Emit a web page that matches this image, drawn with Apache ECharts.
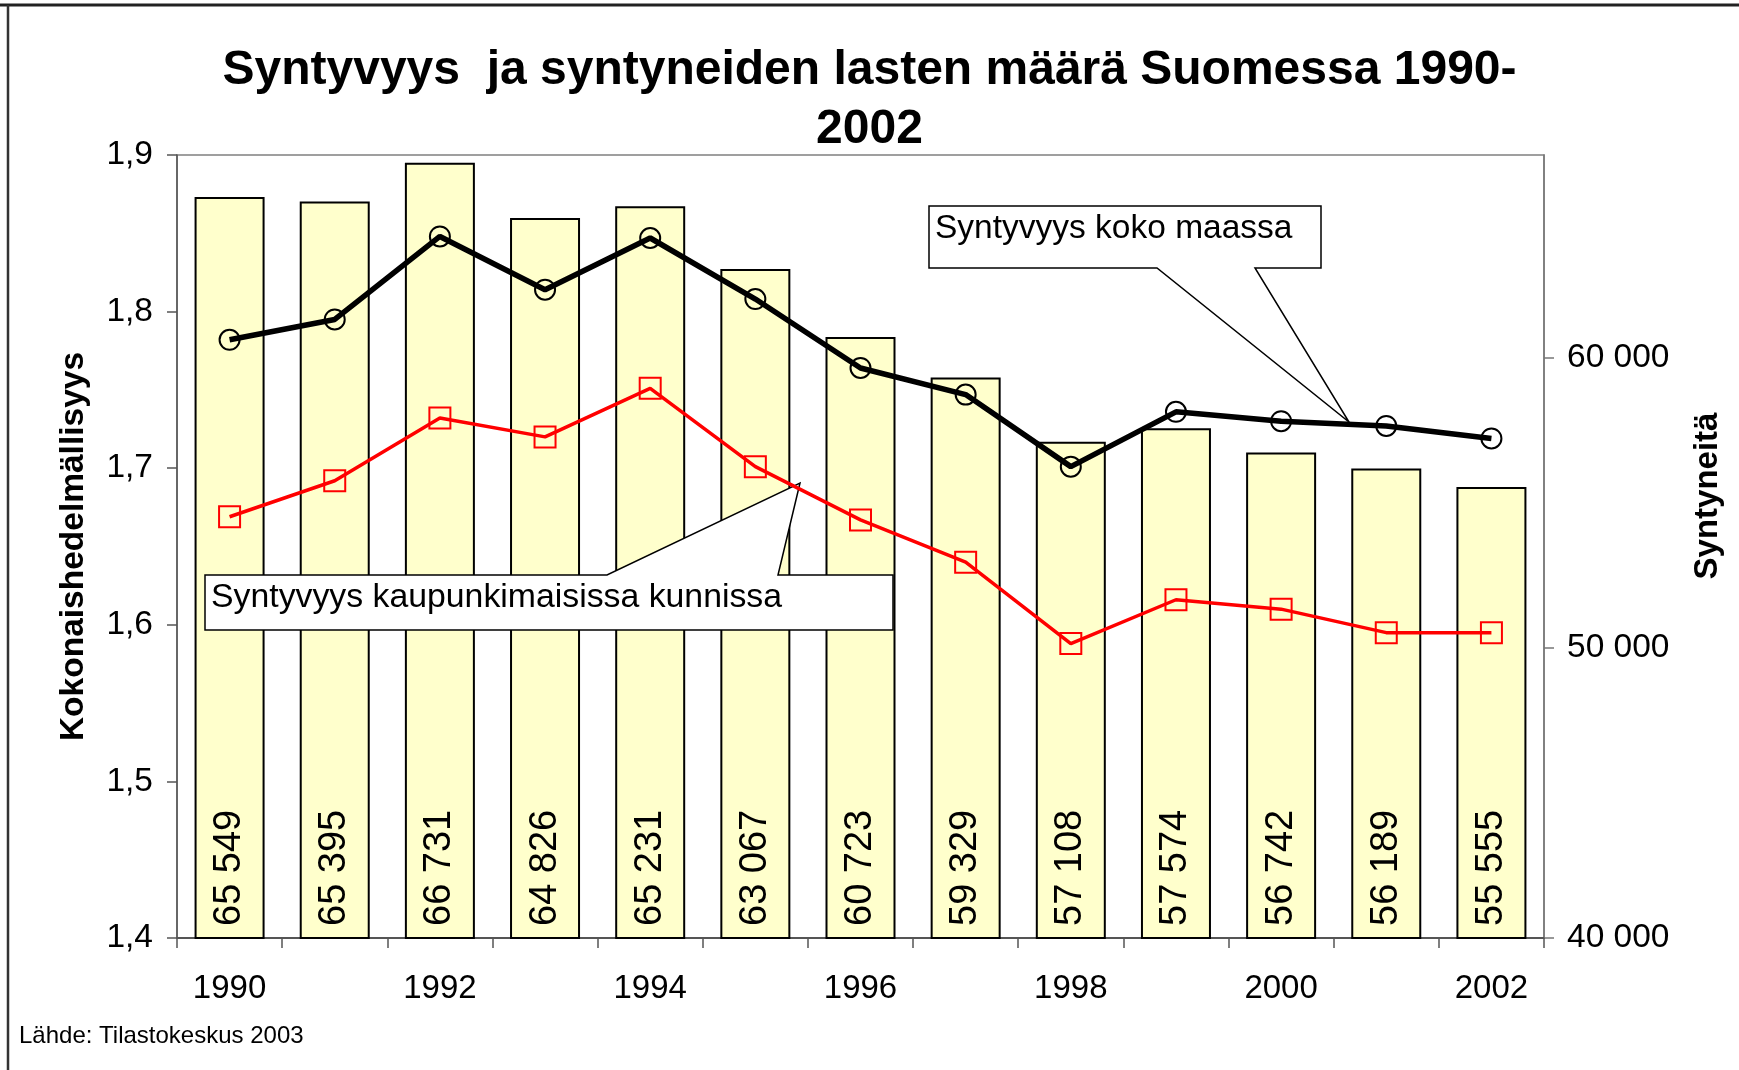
<!DOCTYPE html>
<html>
<head>
<meta charset="utf-8">
<title>Syntyvyys ja syntyneiden lasten määrä Suomessa 1990-2002</title>
<script src="https://cdn.jsdelivr.net/npm/echarts@6.0.0/dist/echarts.min.js"></script>
<style>
	html, body { margin: 0; padding: 0; background: #fff; }
	#chart { width: 1739px; height: 1070px; }
</style>
</head>
<body>
<div id="chart"></div>
<script>
// vuodet (x-akseli)
const years = ['1990', '1991', '1992', '1993', '1994', '1995', '1996', '1997', '1998', '1999', '2000', '2001', '2002'];
// syntyneitä (pylväät, oikea akseli)
const births = [65549, 65395, 66731, 64826, 65231, 63067, 60723, 59329, 57108, 57574, 56742, 56189, 55555];
// kokonaishedelmällisyys koko maassa (musta viiva)
const tfrWhole = [1.782, 1.795, 1.848, 1.814, 1.847, 1.808, 1.764, 1.747, 1.701, 1.736, 1.730, 1.727, 1.719];
// kokonaishedelmällisyys kaupunkimaisissa kunnissa (punainen viiva)
const tfrUrban = [1.669, 1.692, 1.732, 1.720, 1.751, 1.701, 1.667, 1.640, 1.588, 1.616, 1.610, 1.595, 1.595];
// oikean akselin näytettävät arvot
const rightTicks = [40000, 50000, 60000];

const font = 'Liberation Sans, Arial, sans-serif';

//luku muotoon "65 549"
function spaced(v) {
	return String(v).replace(/\B(?=(\d{3})+(?!\d))/g, ' ');
}

const chart = echarts.init(document.getElementById('chart'), null, { renderer: 'canvas' });

const option = {
	animation: false,
	backgroundColor: '#fff',
	textStyle: { fontFamily: font, color: '#000' },
	title: {
		text: 'Syntyvyys  ja syntyneiden lasten määrä Suomessa 1990-\n2002',
		left: 'center',
		top: 36,
		textStyle: {
			fontFamily: font,
			fontSize: 48,
			fontWeight: 'bold',
			lineHeight: 59,
			color: '#000'
		}
	},
	grid: {
		left: 177,
		right: 195,
		top: 155,
		bottom: 132,
		show: true,
		borderColor: '#808080',
		borderWidth: 1.5,
		backgroundColor: '#fff'
	},
	xAxis: {
		type: 'category',
		data: years,
		boundaryGap: true,
		axisLine: { lineStyle: { color: '#555', width: 2 } },
		axisTick: { show: true, interval: 0, length: 10, lineStyle: { color: '#555', width: 1.5 } },
		axisLabel: { interval: 1, fontSize: 33, margin: 34, color: '#000', fontFamily: font },
		splitLine: { show: false }
	},
	yAxis: [{
		type: 'value',
		min: 1.4,
		max: 1.9,
		interval: 0.1,
		name: 'Kokonaishedelmällisyys',
		nameLocation: 'middle',
		nameRotate: 90,
		nameGap: 86,
		nameTextStyle: { fontSize: 33.5, fontWeight: 'bold', color: '#000', fontFamily: font },
		axisLine: { show: true, lineStyle: { color: '#555', width: 1.5 } },
		axisTick: { show: true, length: 10, lineStyle: { color: '#555', width: 1.5 } },
		axisLabel: {
			fontSize: 33.5,
			margin: 24,
			color: '#000',
			fontFamily: font,
			formatter: function(v) {
				return v.toFixed(1).replace('.', ',');
			}
		},
		splitLine: { show: false }
	}, {
		type: 'value',
		min: 40000,
		max: 67000,
		position: 'right',
		axisLine: { show: true, lineStyle: { color: '#777', width: 1.5 } },
		axisTick: { show: true, length: 10, customValues: rightTicks, lineStyle: { color: '#777', width: 1.5 } },
		axisLabel: {
			fontSize: 33.5,
			margin: 23,
			color: '#000',
			fontFamily: font,
			customValues: rightTicks,
			formatter: function(v) {
				return v % 10000 === 0 ? spaced(v) : '';
			}
		},
		splitLine: { show: false }
	}],
	series: [{
		name: 'Syntyneitä',
		type: 'bar',
		yAxisIndex: 1,
		data: births,
		barWidth: 70,
		z: 1,
		itemStyle: { color: '#FFFFCC', borderColor: '#000', borderWidth: 2 },
		label: {
			show: true,
			position: 'insideBottom',
			rotate: 90,
			align: 'left',
			verticalAlign: 'middle',
			distance: 13,
			fontSize: 38,
			color: '#000',
			fontFamily: font,
			formatter: function(p) {
				return spaced(p.value);
			}
		}
	}, {
		name: 'Syntyvyys kaupunkimaisissa kunnissa',
		type: 'line',
		yAxisIndex: 0,
		data: tfrUrban,
		z: 4,
		symbol: 'rect',
		symbolSize: 21,
		itemStyle: { color: 'rgba(0,0,0,0)', borderColor: '#ff0000', borderWidth: 2 },
		lineStyle: { color: '#ff0000', width: 3.5 }
	}, {
		name: 'Syntyvyys koko maassa',
		type: 'line',
		yAxisIndex: 0,
		data: tfrWhole,
		z: 5,
		symbol: 'circle',
		symbolSize: 20,
		itemStyle: { color: 'rgba(0,0,0,0)', borderColor: '#000', borderWidth: 2 },
		lineStyle: { color: '#000', width: 5.5 }
	}],
	graphic: [
		// kehys
		{
			type: 'line',
			shape: { x1: 0, y1: 5, x2: 1739, y2: 5 },
			style: { stroke: '#222', lineWidth: 3 },
			z: 10
		},
		{
			type: 'line',
			shape: { x1: 8, y1: 5, x2: 8, y2: 1070 },
			style: { stroke: '#333', lineWidth: 2.5 },
			z: 10
		},
		// selite: koko maa
		{
			type: 'polygon',
			shape: { points: [[929, 206], [1321, 206], [1321, 268], [1255, 268], [1349, 422], [1157, 268], [929, 268]] },
			style: { fill: '#fff', stroke: '#000', lineWidth: 1.5 },
			z: 3
		},
		{
			type: 'text',
			x: 935,
			y: 229,
			style: { text: 'Syntyvyys koko maassa', fontSize: 33.5, fontFamily: font, fill: '#000', verticalAlign: 'middle' },
			z: 3
		},
		// selite: kaupunkimaiset kunnat
		{
			type: 'polygon',
			shape: { points: [[205, 575], [607, 575], [800, 483], [778, 575], [893, 575], [893, 630], [205, 630]] },
			style: { fill: '#fff', stroke: '#000', lineWidth: 1.5 },
			z: 3
		},
		{
			type: 'text',
			x: 211,
			y: 598,
			style: { text: 'Syntyvyys kaupunkimaisissa kunnissa', fontSize: 33.8, fontFamily: font, fill: '#000', verticalAlign: 'middle' },
			z: 3
		},
		// oikean akselin nimi
		{
			type: 'text',
			x: 1708,
			y: 496,
			rotation: Math.PI / 2,
			style: { text: 'Syntyneitä', fontSize: 33, fontWeight: 'bold', fontFamily: font, fill: '#000', align: 'center', verticalAlign: 'middle' },
			z: 3
		},
		// lähde
		{
			type: 'text',
			x: 19,
			y: 1036,
			style: { text: 'Lähde: Tilastokeskus 2003', fontSize: 24, fontFamily: font, fill: '#000', verticalAlign: 'middle' },
			z: 3
		}
	]
};

chart.setOption(option);
</script>
</body>
</html>
